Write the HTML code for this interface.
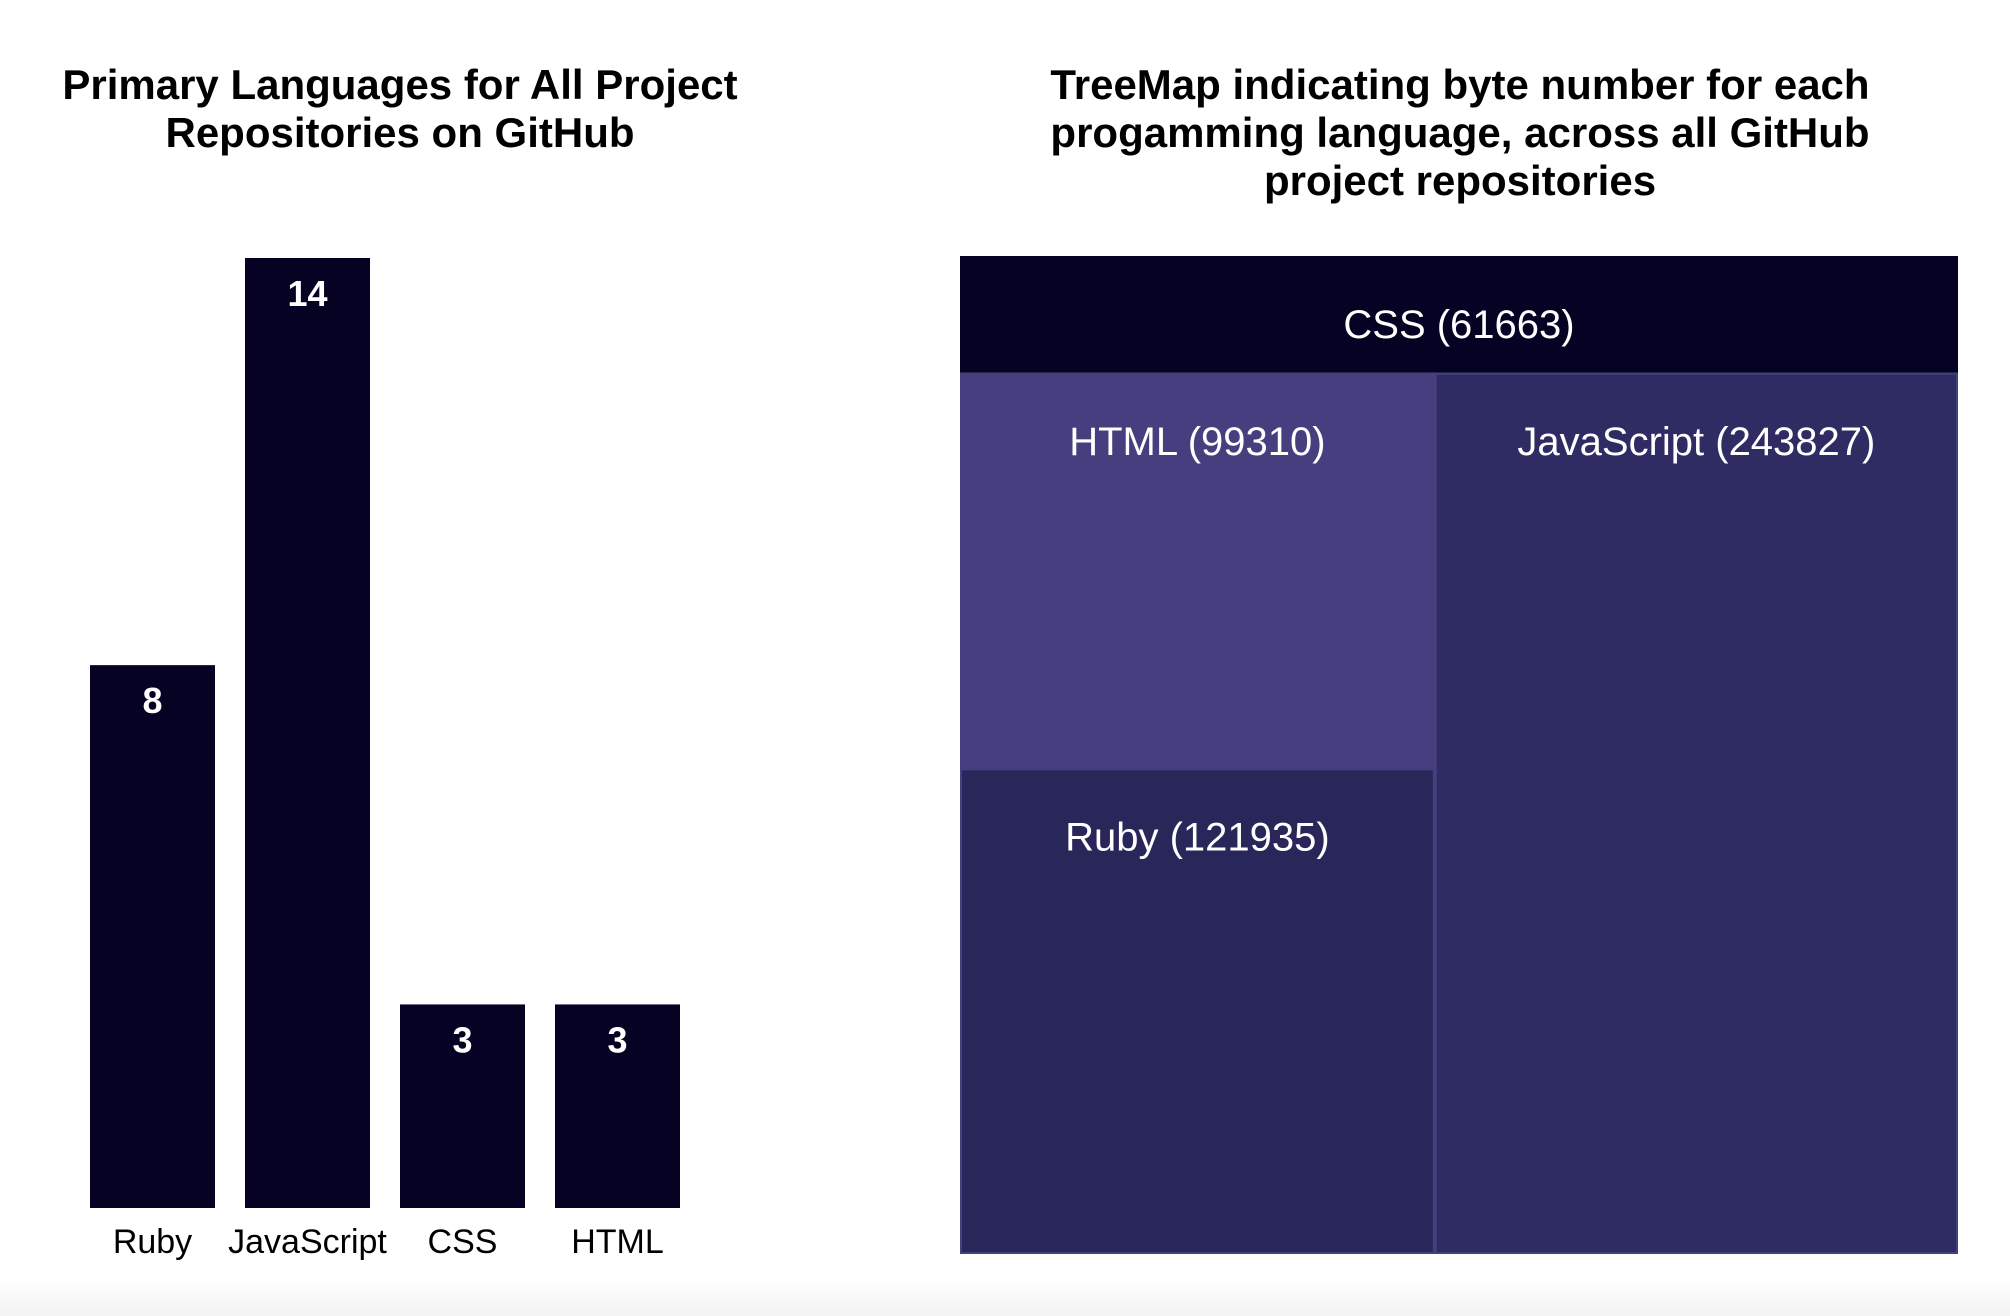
<!DOCTYPE html>
<html><head><meta charset="utf-8"><style>
html,body{margin:0;padding:0;background:#fff;}
body{width:2010px;height:1316px;overflow:hidden;position:relative;font-family:"Liberation Sans",sans-serif;}
#fade{position:absolute;left:0;top:1280px;width:2010px;height:36px;background:linear-gradient(#fff,#f3f3f3);}
</style></head><body>
<svg id="svg" width="2010" height="1316" style="position:absolute;left:0;top:0">
<text x="400" y="99" text-anchor="middle" font-size="42" font-weight="bold" fill="#000"><tspan x="400">Primary Languages for All Project</tspan><tspan x="400" dy="48">Repositories on GitHub</tspan></text>
<text x="1460" y="99" text-anchor="middle" font-size="42" font-weight="bold" fill="#000"><tspan x="1460">TreeMap indicating byte number for each</tspan><tspan x="1460" dy="48">progamming language, across all GitHub</tspan><tspan x="1460" dy="48">project repositories</tspan></text>
<g id="bars"></g>
<g id="tree"></g>
</svg>
<div id="fade"></div>
<script>
const barCategories = ["Ruby","JavaScript","CSS","HTML"];
const barValues = [8,14,3,3];
const treeLabels = ["CSS","HTML","Ruby","JavaScript"];
const treeValues = [61663,99310,121935,243827];

const NS="http://www.w3.org/2000/svg";
function mk(tag,attrs,parent){const e=document.createElementNS(NS,tag);for(const k in attrs)e.setAttribute(k,attrs[k]);parent.appendChild(e);return e;}

// bar chart
const bars=document.getElementById('bars');
const x0=90, band=155, bw=125, yBase=1208, yTop=258, maxV=14;
const yScale=v=>yBase-(v/maxV)*(yBase-yTop);
barCategories.forEach((c,i)=>{
  const x=x0+i*band, y=yScale(barValues[i]);
  const r=mk('rect',{x:x,y:y,width:bw,height:yBase-y,fill:'#050224'},bars);
  
  
  const t=mk('text',{x:x+bw/2,y:y+48,'text-anchor':'middle','font-size':'36','font-weight':'bold',fill:'#fff'},bars);
  t.textContent=barValues[i];
  
  
  const l=mk('text',{x:x+bw/2,y:yBase+45,'text-anchor':'middle','font-size':'34',fill:'#000'},bars);
  l.textContent=c;
  
  
});

// treemap (slice-and-dice from values)
const tree=document.getElementById('tree');
const L=960,T=256,W=998,H=998;
const total=treeValues.reduce((a,b)=>a+b,0);
const hTop=H*treeValues[0]/total;
const rest=total-treeValues[0];
const colW=W*(treeValues[1]+treeValues[2])/rest;
const hHtml=(H-hTop)*treeValues[1]/(treeValues[1]+treeValues[2]);
const rects=[
 [L,T,W,hTop,'#050224'],
 [L,T+hTop,colW,hHtml,'#453e7f'],
 [L,T+hTop+hHtml,colW,H-hTop-hHtml,'#29265a'],
 [L+colW,T+hTop,W-colW,H-hTop,'#2f2b63']
];
rects.forEach((r,i)=>{
  const e=mk('rect',{x:r[0],y:r[1],width:r[2],height:r[3],fill:r[4]},tree);
  
  
  if(i>0){const b=mk('rect',{x:r[0]+1,y:r[1]+1,width:r[2]-2,height:r[3]-2,fill:'none',stroke:'#453e7f','stroke-width':2},tree);
    
    }
  const t=mk('text',{x:r[0]+r[2]/2,y:r[1]+82,'text-anchor':'middle','font-size':'40',fill:'#fff'},tree);
  t.textContent=treeLabels[i]+' ('+treeValues[i]+')';
  
  
});
</script>
</body></html>
